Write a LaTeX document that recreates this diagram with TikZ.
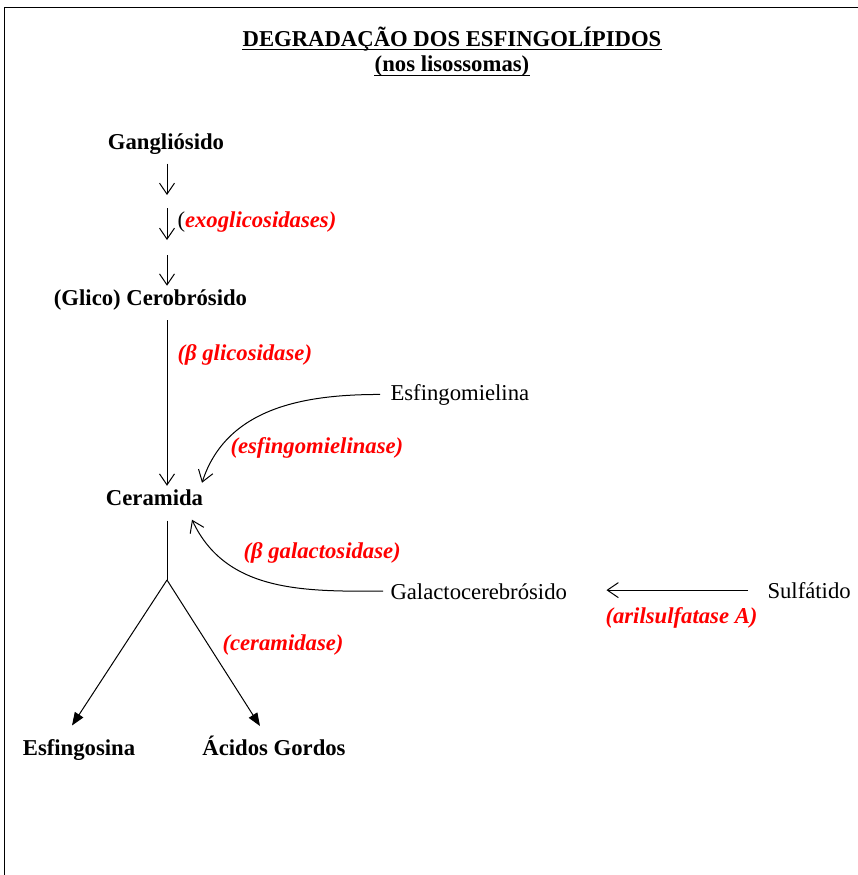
\documentclass[tikz,border=0pt]{standalone}
\usepackage{fontspec}
\setmainfont{Liberation Serif}
\usetikzlibrary{arrows.meta}

\begin{document}
\begin{tikzpicture}[
  x=1pt, y=-1pt,
  line width=1pt,
  font=\fontsize{22.7}{27}\selectfont,
  compound/.style={
     inner sep=3pt,
     anchor=base,
     font=\fontsize{22.7}{27}\selectfont\bfseries,
  },
  heading/.style={
     inner sep=0pt,
     anchor=base,
     font=\fontsize{22.7}{27}\selectfont\bfseries,
  },
  lipid/.style={inner sep=3pt, anchor=base west},
  enzyme/.style={
     inner sep=0pt,
     anchor=base west,
     text=red,
     font=\fontsize{22.7}{27}\selectfont\bfseries\itshape,
  },
  openarrow/.style={-{Straight Barb[length=11pt,width=15pt]}},
  fullarrow/.style={-{Triangle[length=13pt,width=10pt]}},
]
   \useasboundingbox (0,0) rectangle (858,875);
   \draw[line width=1.6pt] (858,7.5) -- (4.5,7.5) -- (4.5,875);

   \node[heading] (title) at (452,47) {DEGRADAÇÃO DOS ESFINGOLÍPIDOS};
   \node[heading] (sub) at (452,71) {(nos lisossomas)};
   \draw[line width=1.4pt] ([yshift=-2.5pt]title.base west) -- ([yshift=-2.5pt]title.base east);
   \draw[line width=1.4pt] ([yshift=-4.5pt]sub.base west) -- ([yshift=-4.5pt]sub.base east);

   \node[compound] (gangl) at (166,149) {Gangliósido};
   \node[compound] (cerebro) at (150.5,305) {(Glico) Cerobrósido};
   \node[compound] (ceramida) at (154.5,505) {Ceramida};
   \node[lipid] (esfingo) at (387,400) {Esfingomielina};
   \node[lipid] (galacto) at (387,599) {Galactocerebrósido};
   \node[lipid] (sulfat) at (764,598) {Sulfátido};
   \node[compound] (esfingosina) at (79,755) {Esfingosina};
   \node[compound] (acidos) at (274,755) {Ácidos Gordos};

   % broken arrow of the exoglicosidases
   \coordinate (g1) at (167,195);
   \coordinate (g2) at (167,208);
   \coordinate (g3) at (167,240);
   \coordinate (g4) at (167,255);
   \draw[openarrow, shorten <=6pt] (gangl.south -| g1) -- (g1);
   \draw[openarrow] (g2) -- (g3);
   \draw[openarrow] (g4) -- (cerebro.north -| g4);

   \draw[openarrow, shorten <=7pt] (cerebro.south -| g1) -- (ceramida.north -| g1);
   \draw[openarrow, shorten <=7pt] (esfingo.west)
      to[out=180, in=72] ([xshift=47.5pt,yshift=3pt]ceramida.north);
   \draw[openarrow, shorten <=4pt] (galacto.west)
      to[out=180, in=-65] ([xshift=37.5pt,yshift=-11pt]ceramida.south);
   \draw[openarrow, shorten <=16pt, shorten >=36pt]
      (sulfat.west) -- (sulfat.west -| galacto.east);

   \coordinate (split) at (167,580);
   \draw[shorten <=12pt] (ceramida.south -| split) -- (split);
   \draw[fullarrow] (split) -- ([xshift=-7pt,yshift=10pt]esfingosina.north);
   \draw[fullarrow] (split) -- ([xshift=-14pt,yshift=6pt]acidos.north);

   \node[enzyme] (exo) at (177,227) {\textcolor{black}{\mdseries\upshape(}exoglicosidases)};
   \node[enzyme] (glic) at (177,360) {(β glicosidase)};
   \node[enzyme] (esm) at (230,453) {(esfingomielinase)};
   \node[enzyme] (galase) at (243,558) {(β galactosidase)};
   \node[enzyme] (aril) at (605,623) {(arilsulfatase A)};
   \node[enzyme] (cerase) at (222,650) {(ceramidase)};
\end{tikzpicture}
\end{document}
